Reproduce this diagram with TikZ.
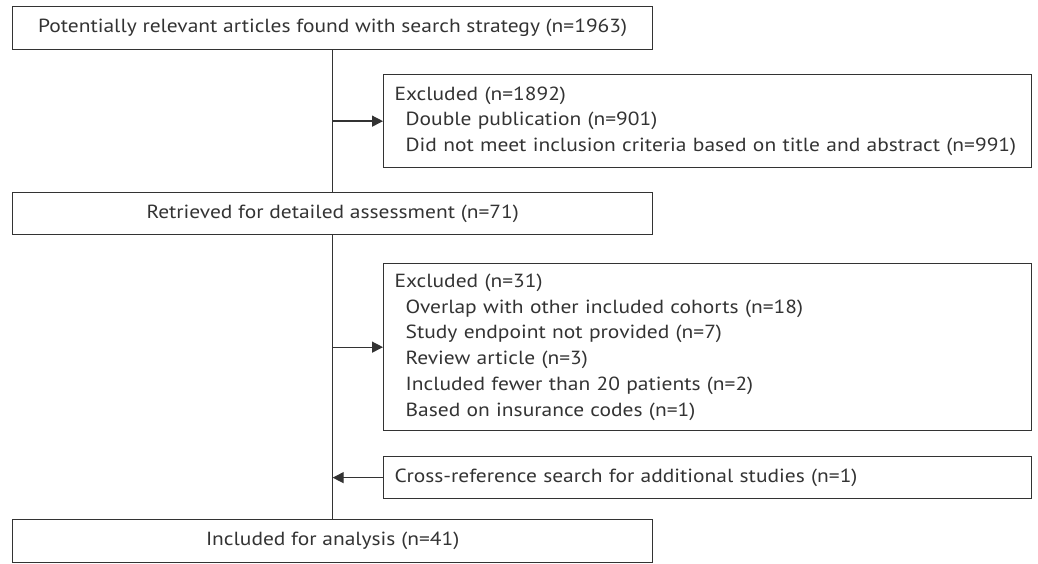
\documentclass[tikz,border=0pt]{standalone}
\usepackage{fontspec}
\setmainfont{PT Sans}[FakeStretch=1.13]
\usetikzlibrary{arrows.meta}
\definecolor{ink}{HTML}{333333}
\begin{document}
\begin{tikzpicture}[x=1pt,y=-1pt,
  box/.style={draw=ink, line width=1.3pt, text=ink,
    font=\fontsize{19}{25.7}\selectfont, inner sep=0pt, anchor=north west},
  cbox/.style={box, minimum width=640pt, align=center},
  lbox/.style={box, inner xsep=11pt, text width=626pt, align=left},
  link/.style={draw=ink, line width=1.3pt},
  arr/.style={link, -{Triangle[length=11pt,width=11pt]}}]
\useasboundingbox (0,0) rectangle (1038,564);
\node[cbox, minimum height=43pt] (b1) at (12,6)
  {Potentially relevant articles found with search strategy (n=1963)};
\node[lbox, minimum height=93pt] (b2) at (383,74)
  {Excluded (n=1892)\\
   \hspace*{11pt}Double publication (n=901)\\
   \mbox{\hspace*{11pt}Did not meet inclusion criteria based on title and abstract (n=991)}};
\node[cbox, minimum height=42pt] (b3) at (12,192)
  {Retrieved for detailed assessment (n=71)};
\node[lbox, minimum height=167pt] (b4) at (383,263)
  {Excluded (n=31)\\
   \hspace*{11pt}Overlap with other included cohorts (n=18)\\
   \hspace*{11pt}Study endpoint not provided (n=7)\\
   \hspace*{11pt}Review article (n=3)\\
   \hspace*{11pt}Included fewer than 20 patients (n=2)\\
   \hspace*{11pt}Based on insurance codes (n=1)};
\node[lbox, minimum height=42pt] (b5) at (383,456)
  {Cross-reference search for additional studies (n=1)};
\node[cbox, minimum height=43pt] (b6) at (12,519)
  {Included for analysis (n=41)};
\draw[link] (b1.south) -- (b3.north);
\draw[link] (b3.south) -- (b6.north);
\coordinate (j1) at (b2.west -| b1.south);
\coordinate (j2) at (b4.west -| b3.south);
\coordinate (j3) at (b5.west -| b3.south);
\draw[arr] (j1) -- (b2.west);
\draw[arr] (j2) -- (b4.west);
\draw[arr] (b5.west) -- (j3);
\end{tikzpicture}
\end{document}
